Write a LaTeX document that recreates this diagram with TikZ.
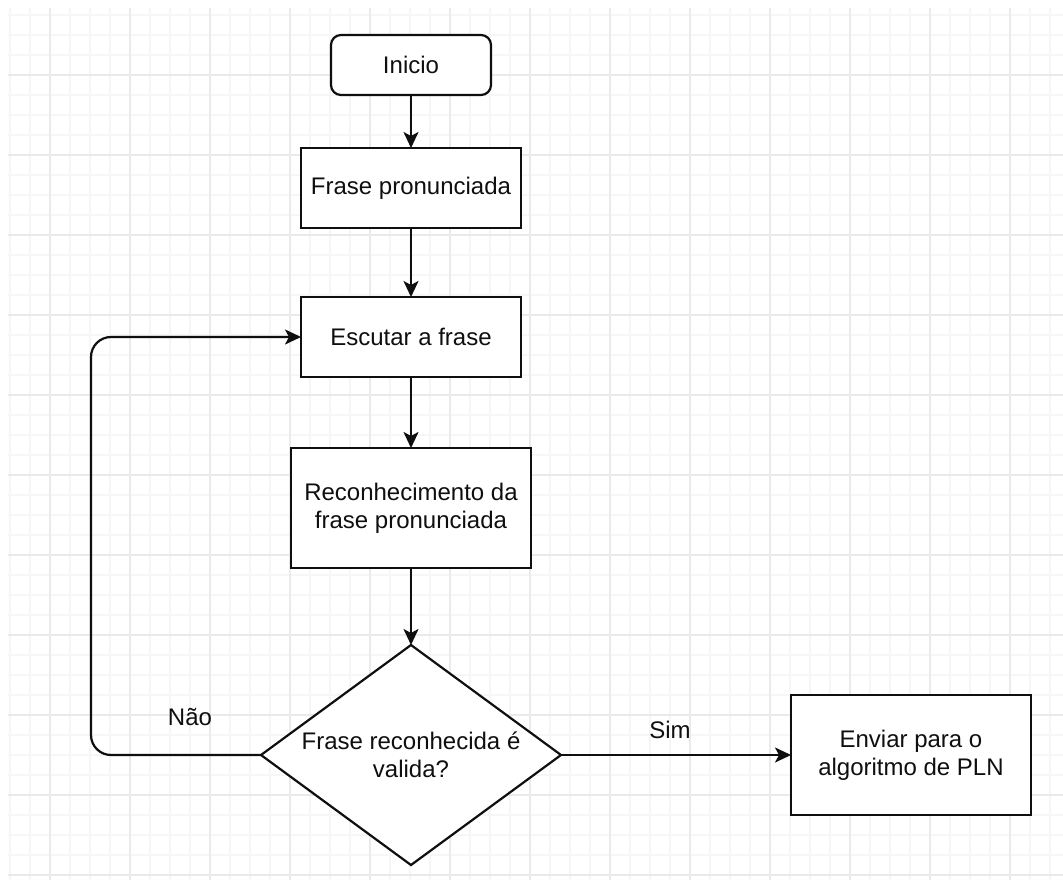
\documentclass[tikz,border=0pt]{standalone}
\usepackage{fontspec}
\setmainfont{Liberation Sans}
\usetikzlibrary{shapes.geometric,arrows.meta}
\definecolor{gridminor}{RGB}{246,246,246}
\definecolor{gridmajor}{RGB}{234,234,234}
\definecolor{ink}{RGB}{15,15,15}
\tikzset{
  box/.style={draw=ink, line width=2.2pt, fill=white, inner sep=0pt, outer sep=0pt,
    align=center, text=ink, font=\fontsize{24}{28}\selectfont},
  startbox/.style={box, rounded corners=10pt, minimum width=160pt, minimum height=60pt},
  procbox/.style={box, minimum width=220pt, minimum height=80pt},
  bigbox/.style={box, minimum width=240pt, minimum height=120pt},
  decision/.style={box, diamond, aspect=1.3636, minimum width=300pt, minimum height=220pt},
  link/.style={draw=ink, line width=2.2pt, -{Stealth[length=16pt,width=15pt,inset=4pt]}},
  lbl/.style={text=ink, font=\fontsize{24}{28}\selectfont}
}
\begin{document}
\begin{tikzpicture}[x=1pt,y=-1pt]
  % canvas and background grid
  \fill[white] (0,0) rectangle (1063,880);
  \useasboundingbox (0,0) rectangle (1063,880);
  \foreach \x in {10,30,...,1050} \draw[gridminor, line width=1.3pt] (\x,8) -- (\x,880);
  \foreach \y in {15,35,...,875} \draw[gridminor, line width=1.3pt] (8,\y) -- (1063,\y);
  \foreach \x in {50,130,...,1010} \draw[gridmajor, line width=1.5pt] (\x,8) -- (\x,880);
  \foreach \y in {75,155,...,875} \draw[gridmajor, line width=1.5pt] (8,\y) -- (1063,\y);

  % flowchart nodes
  \node[startbox] (start) at (411,65) {Inicio};
  \node[procbox] (frase) at (411,188) {Frase pronunciada};
  \node[procbox] (escutar) at (411,337) {Escutar a frase};
  \node[bigbox] (recon) at (411,508) {Reconhecimento da\\frase pronunciada};
  \node[decision] (dec) at (411,755) {Frase reconhecida é\\valida?};
  \node[bigbox] (enviar) at (911,755) {Enviar para o\\algoritmo de PLN};

  % connectors
  \draw[link] (start) -- (frase);
  \draw[link] (frase) -- (escutar);
  \draw[link] (escutar) -- (recon);
  \draw[link] (recon) -- (dec);
  \draw[link] (dec) -- (enviar);
  \draw[link, rounded corners=20pt] (dec.west) -- ++(-170,0) |- (escutar.west);

  % branch labels
  \node[lbl] (nao) at (190,717) {Não};
  \node[lbl] (sim) at (670,730) {Sim};
\end{tikzpicture}
\end{document}
